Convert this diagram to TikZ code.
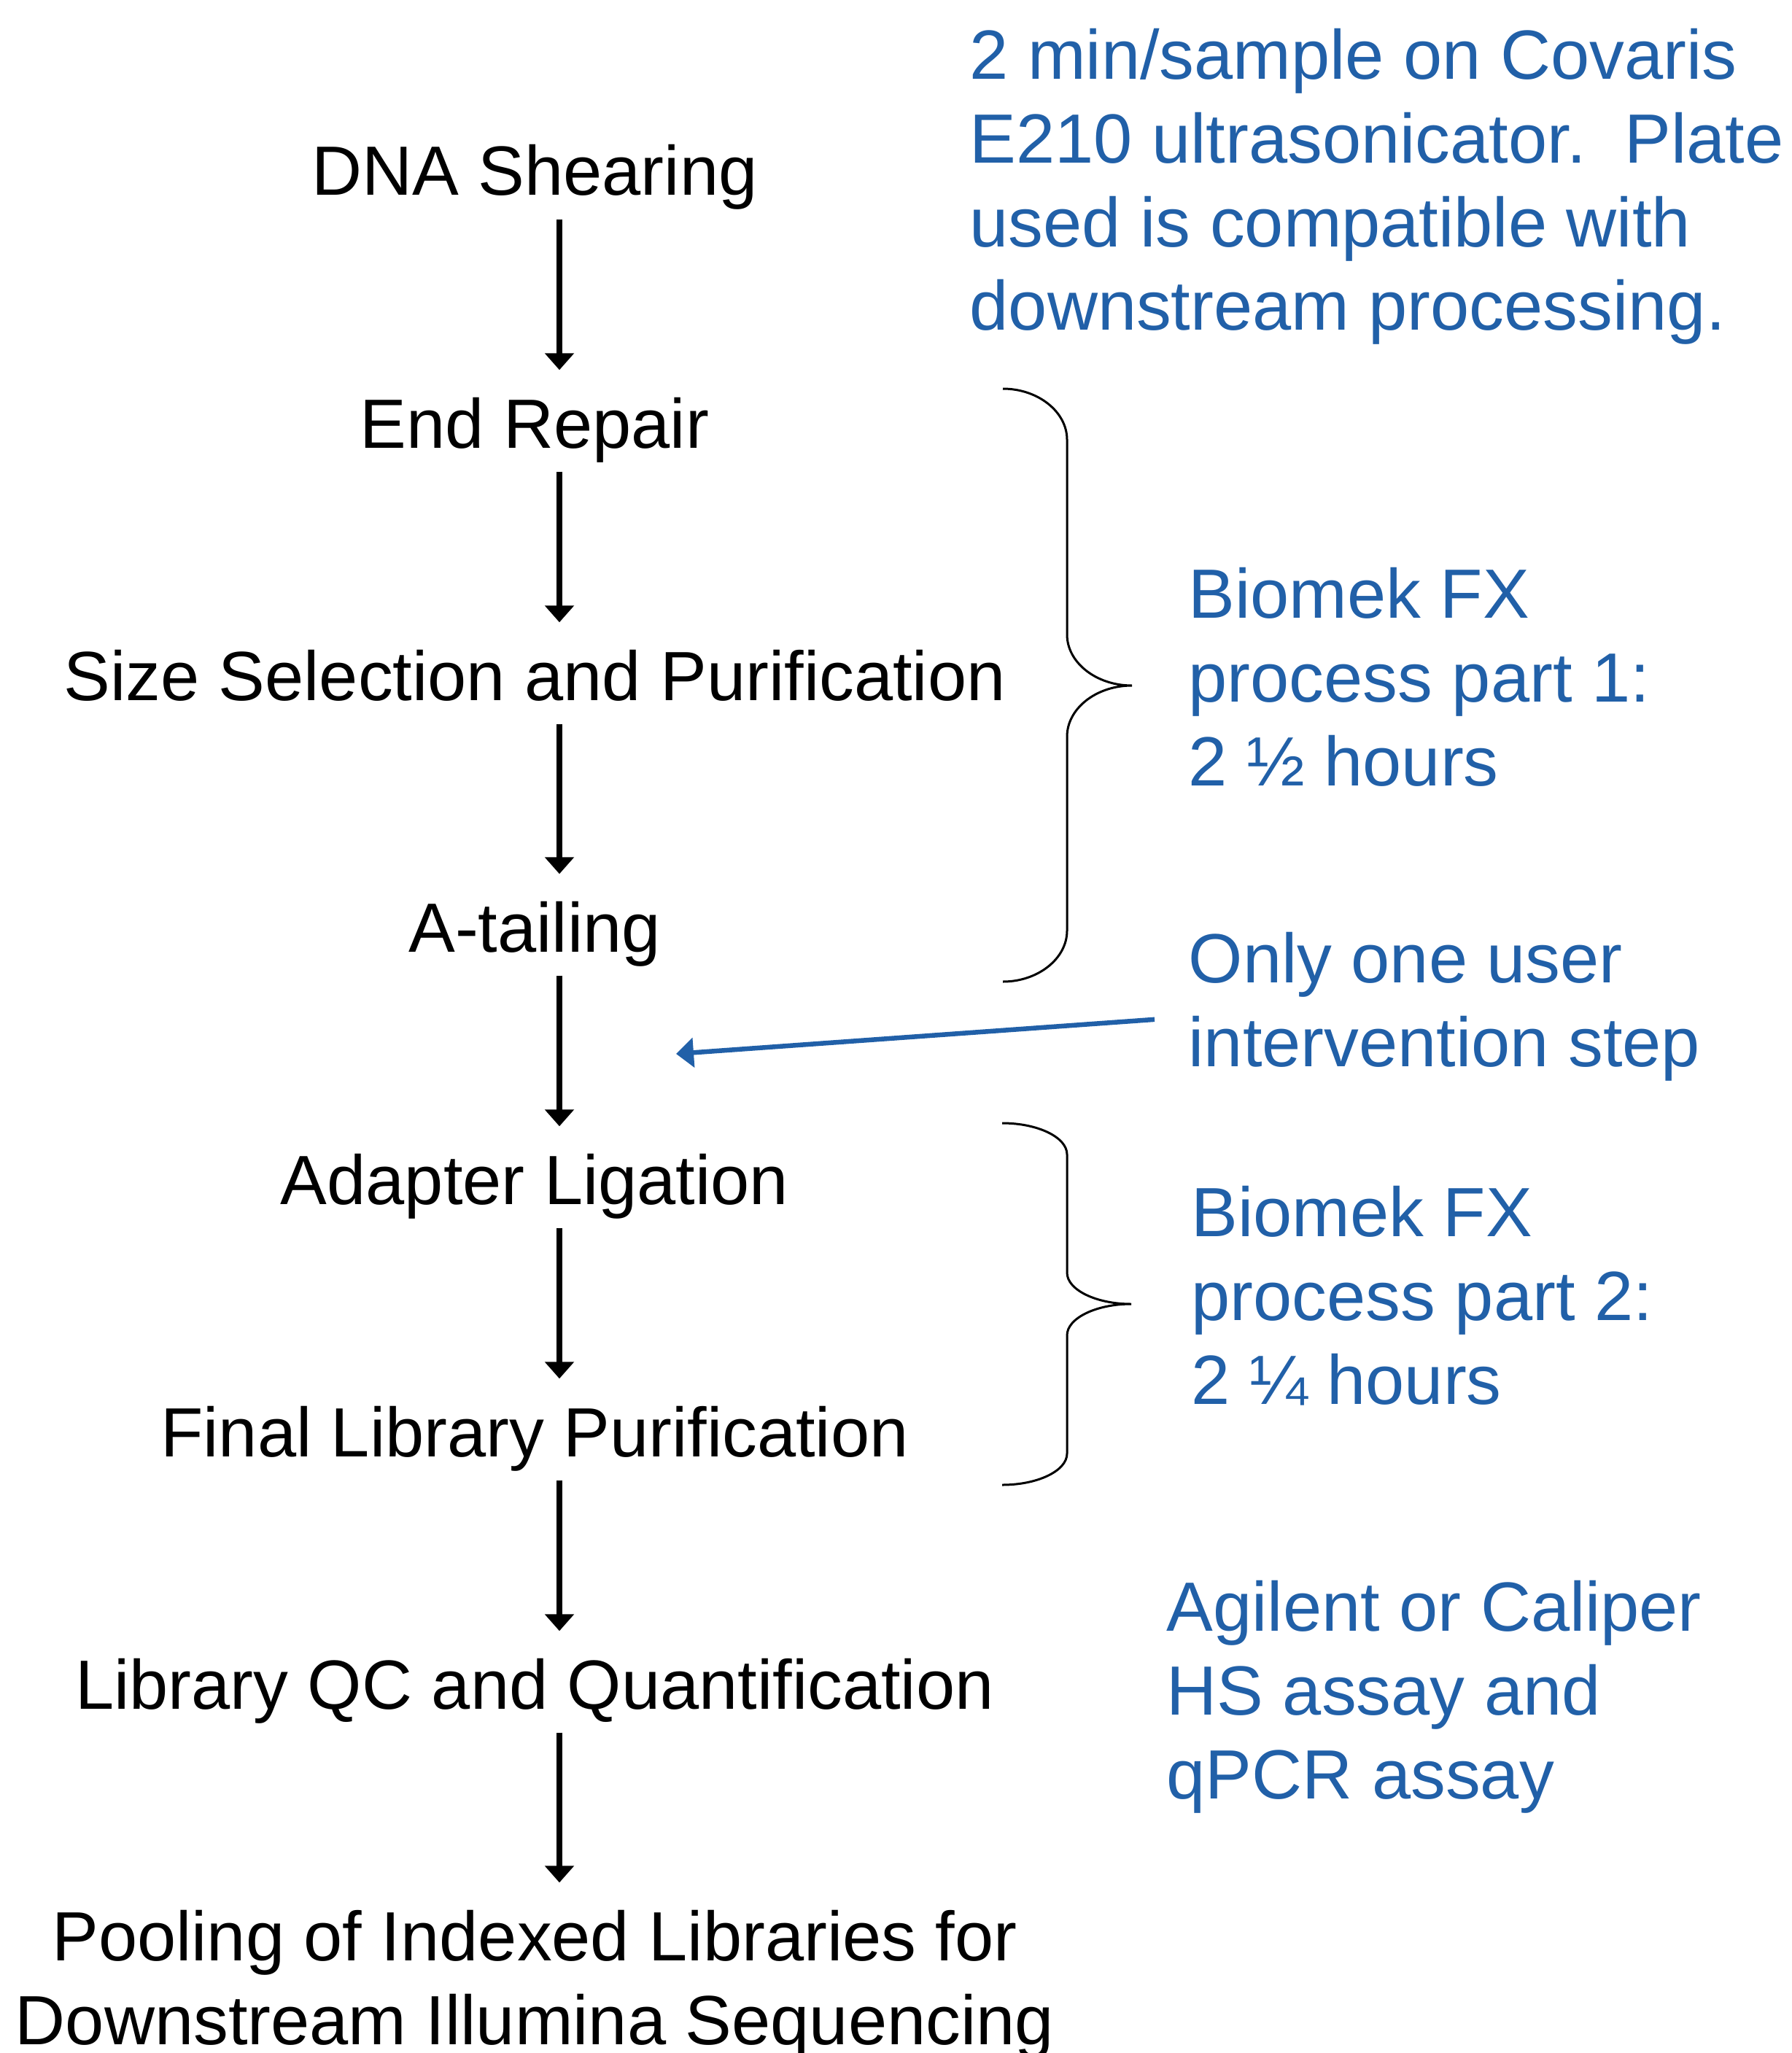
\documentclass[tikz,border=0pt]{standalone}
\usepackage{fontspec}
\setmainfont{Liberation Sans}
\usepackage{tikz}
\usetikzlibrary{arrows.meta}
\definecolor{notesblue}{RGB}{33, 96, 168}

\begin{document}
\begin{tikzpicture}[
        stepnode/.style={anchor=base, align=center, inner xsep=0pt, inner ysep=0.12cm, text height=0.72cm, text depth=0.2cm, font=\fontsize{27.2pt}{32.7pt}\selectfont},
        notenode/.style={anchor=base west, align=left, inner sep=0pt, text=notesblue, font=\fontsize{27.2pt}{32.7pt}\selectfont},
        flow/.style={-{Triangle[length=0.23cm, width=0.39cm]}, line width=0.08cm, shorten >=0.22cm},
        pointer/.style={-{Triangle[length=0.24cm, width=0.4cm]}, line width=0.065cm, draw=notesblue},
        curlybrace/.style={draw=black, line width=0.03cm}
    ]
        \useasboundingbox (0,0) rectangle (24.57,-28.15);

        % Library prep steps (left column)
        \node[stepnode] (dna) at (7.33,-2.68) {DNA Shearing};
        \node[stepnode] (endrep) at (7.33,-6.14) {End Repair};
        \node[stepnode] (sizesel) at (7.33,-9.60) {Size Selection and Purification};
        \node[stepnode] (atail) at (7.33,-13.05) {A-tailing};
        \node[stepnode] (adapter) at (7.33,-16.51) {Adapter Ligation};
        \node[stepnode] (finalpur) at (7.33,-19.97) {Final Library Purification};
        \node[stepnode] (libqc) at (7.33,-23.43) {Library QC and Quantification};
        \node[stepnode, text height=1.87cm] (pooling) at (7.33,-28.03) {Pooling of Indexed Libraries for\\Downstream Illumina Sequencing};

        % Arrows between steps
        \coordinate (col) at (7.67,0);
        \draw[flow] (dna.south -| col) -- (endrep.north -| col);
        \draw[flow] (endrep.south -| col) -- (sizesel.north -| col);
        \draw[flow] (sizesel.south -| col) -- (atail.north -| col);
        \draw[flow] (atail.south -| col) -- (adapter.north -| col);
        \draw[flow] (adapter.south -| col) -- (finalpur.north -| col);
        \draw[flow] (finalpur.south -| col) -- (libqc.north -| col);
        \draw[flow] (libqc.south -| col) -- (pooling.north -| col);

        % Notes (right column), placed by their last line
        \node[notenode] (shearnote) at (13.29,-4.53) {2 min/sample on Covaris\\E210 ultrasonicator.\ \ Plate\\used is compatible with\\downstream processing.};
        \node[notenode] (part1note) at (16.29,-10.77) {Biomek FX\\process part 1:\\2 ½ hours};
        \node[notenode] (usernote) at (16.29,-14.62) {Only one user\\intervention step};
        \node[notenode] (part2note) at (16.33,-19.25) {Biomek FX\\process part 2:\\2 ¼ hours};
        \node[notenode] (qcnote) at (15.99,-24.66) {Agilent or Caliper\\HS assay and\\qPCR assay};

        % User step pointer
        \coordinate (gap) at (9.27,-14.45);
        \draw[pointer] ([shift={(-0.46,-0.18)}]usernote.west) -- (gap);

        % Braces: Biomek part 1 and part 2
        \draw[curlybrace] (13.75,-5.33) .. controls (14.23,-5.33) and (14.63,-5.645) .. (14.63,-6.03)
            -- (14.63,-8.70) .. controls (14.63,-9.085) and (15.03,-9.40) .. (15.52,-9.40)
            .. controls (15.03,-9.40) and (14.63,-9.715) .. (14.63,-10.10)
            -- (14.63,-12.76) .. controls (14.63,-13.145) and (14.23,-13.46) .. (13.75,-13.46);
        \draw[curlybrace] (13.74,-15.40) .. controls (14.23,-15.40) and (14.63,-15.594) .. (14.63,-15.83)
            -- (14.63,-17.45) .. controls (14.63,-17.686) and (15.03,-17.88) .. (15.51,-17.88)
            .. controls (15.03,-17.88) and (14.63,-18.074) .. (14.63,-18.31)
            -- (14.63,-19.93) .. controls (14.63,-20.166) and (14.23,-20.36) .. (13.74,-20.36);
    \end{tikzpicture}
\end{document}
